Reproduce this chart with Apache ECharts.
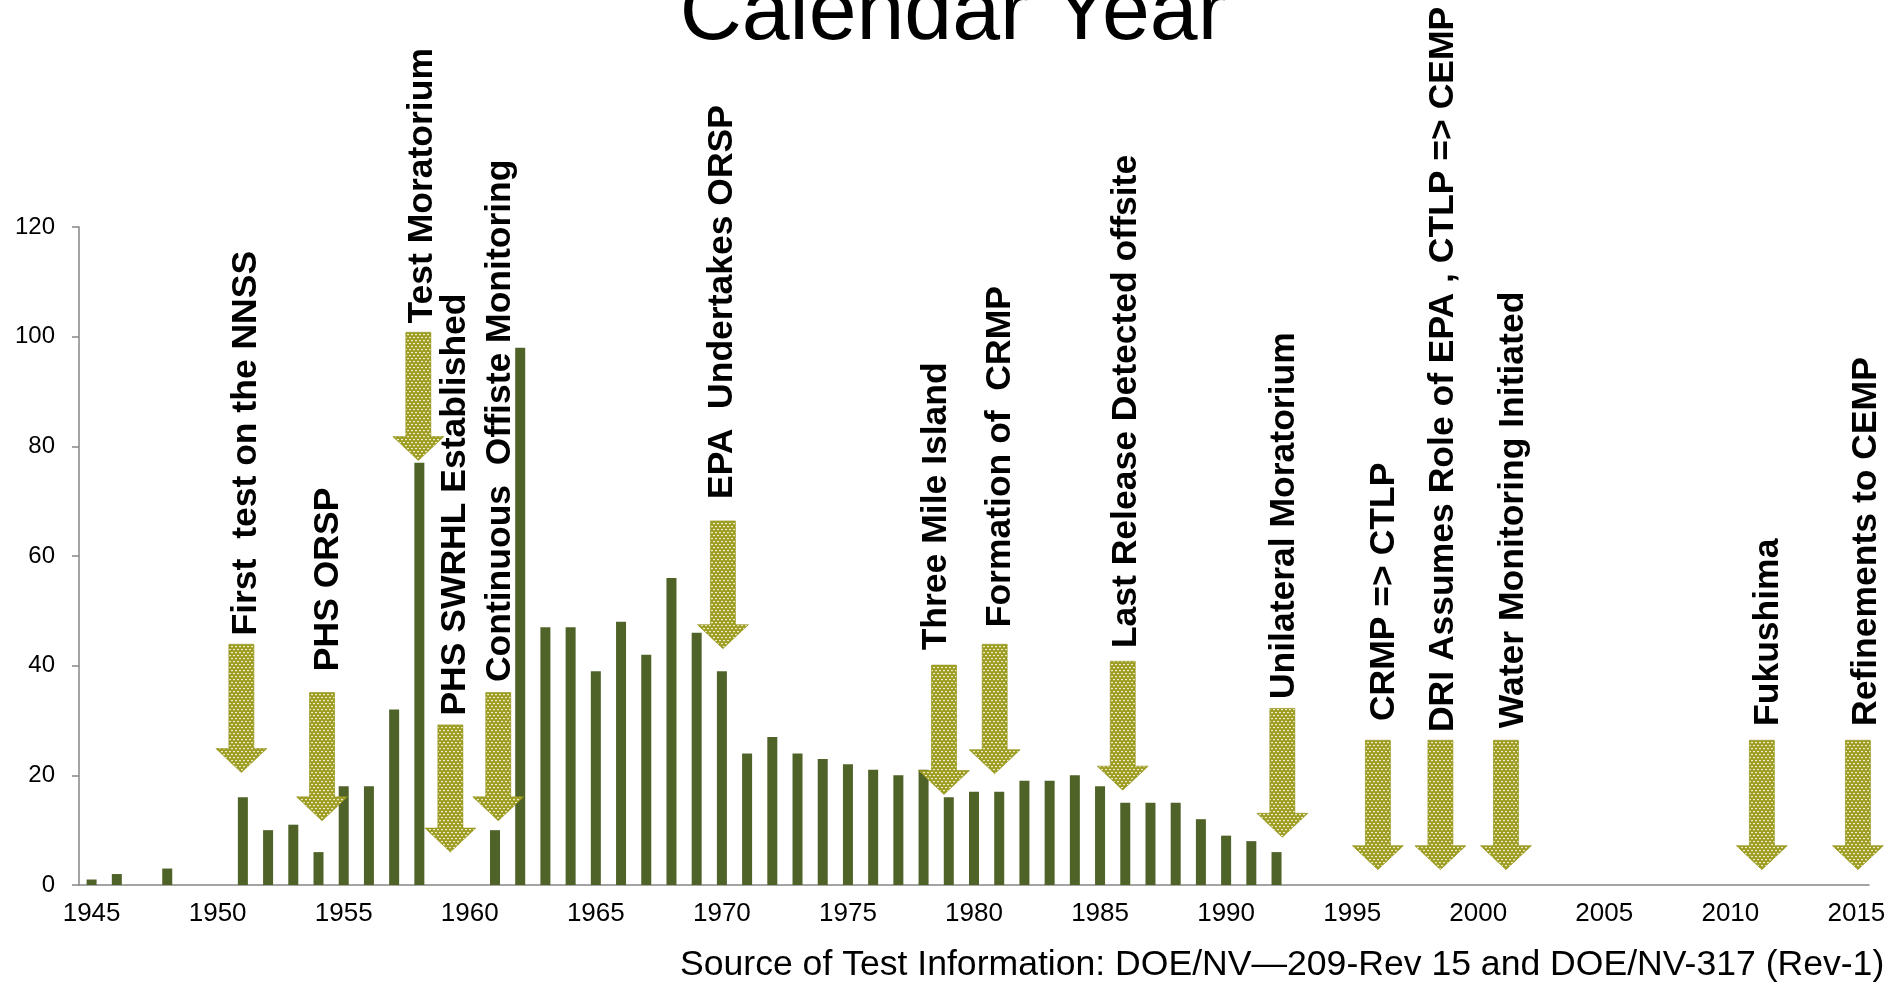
<!DOCTYPE html>
<html>
<head>
<meta charset="utf-8">
<title>Nuclear tests by calendar year</title>
<script src="https://cdn.jsdelivr.net/npm/echarts@6/dist/echarts.min.js"></script>
<style>
  html, body { margin: 0; padding: 0; background: #fff; }
  #chart { width: 1898px; height: 982px; }
</style>
</head>
<body>
<div id="chart"></div>
<script>
const years = [
  '1945', '1946', '1947', '1948', '1949', '1950', '1951', '1952', '1953', '1954',
  '1955', '1956', '1957', '1958', '1959', '1960', '1961', '1962', '1963', '1964',
  '1965', '1966', '1967', '1968', '1969', '1970', '1971', '1972', '1973', '1974',
  '1975', '1976', '1977', '1978', '1979', '1980', '1981', '1982', '1983', '1984',
  '1985', '1986', '1987', '1988', '1989', '1990', '1991', '1992', '1993', '1994',
  '1995', '1996', '1997', '1998', '1999', '2000', '2001', '2002', '2003', '2004',
  '2005', '2006', '2007', '2008', '2009', '2010', '2011', '2012', '2013', '2014',
  '2015'
]
const testCounts = [
  1, 2, 0, 3, 0, 0, 16, 10, 11, 6,
  18, 18, 32, 77, 0, 0, 10, 98, 47, 47,
  39, 48, 42, 56, 46, 39, 24, 27, 24, 23,
  22, 21, 20, 21, 16, 17, 17, 19, 19, 20,
  18, 15, 15, 15, 12, 9, 8, 6, 0, 0,
  0, 0, 0, 0, 0, 0, 0, 0, 0, 0,
  0, 0, 0, 0, 0, 0, 0, 0, 0, 0,
  0
]
const yTicks = { min: 0, max: 120, step: 20 }

// event arrows: year position, top of shaft, arrow tip (in test counts)
const arrowYears = [1950.94, 1954.14, 1957.96, 1959.23, 1961.13, 1970.04, 1978.81, 1980.82, 1985.9, 1992.23, 1996.02, 1998.5, 2001.1, 2011.25, 2015.06]
const arrowTops = [43.9, 35.1, 100.8, 29.2, 35.1, 66.4, 40.1, 43.9, 40.8, 32.2, 26.4, 26.4, 26.4, 26.4, 26.4]
const arrowTips = [20.5, 11.7, 77.4, 6.0, 11.7, 43.1, 16.5, 20.3, 17.3, 8.7, 2.8, 2.8, 2.8, 2.8, 2.8]

const eventLabels = [
  'First  test on the NNSS',
  'PHS ORSP',
  'Test Moratorium',
  'PHS SWRHL Established',
  'Continuous  Offiste Monitoring',
  'EPA  Undertakes ORSP',
  'Three Mile Island',
  'Formation of  CRMP',
  'Last Release Detected offsite',
  'Unilateral Moratorium',
  'CRMP => CTLP',
  'DRI Assumes Role of EPA , CTLP => CEMP',
  'Water Monitoring Initiated',
  'Fukushima',
  'Refinements to CEMP'
]
const labelYears = [1951.12, 1954.39, 1958.12, 1959.44, 1961.21, 1970.01, 1978.5, 1981.03, 1986.03, 1992.3, 1996.26, 1998.6, 2001.38, 2011.49, 2015.37]
const labelBases = [45.5, 39.0, 102.4, 30.9, 37.0, 70.4, 42.8, 47.0, 43.2, 33.9, 29.9, 27.9, 28.6, 29.0, 29.0]

const titleText = 'Calendar Year'
const sourceText = 'Source of Test Information: DOE/NV\u2014209-Rev 15 and DOE/NV-317 (Rev-1)'

const font = '"Liberation Sans", Arial, sans-serif'
const axisGrey = '#868686'

// dotted fill like the office pattern on the arrows
const makeDots = () => {
  const c = document.createElement('canvas')
  c.width = 4
  c.height = 6
  const ctx = c.getContext('2d')
  ctx.fillStyle = '#9a9a1c'
  ctx.fillRect(0, 0, 4, 6)
  ctx.fillStyle = '#eeeccb'
  ;[[2, 1.5], [0, 4.5], [4, 4.5]].forEach(([x, y]) => {
    ctx.beginPath()
    ctx.ellipse(x, y, 1.2, 0.85, 0, 0, Math.PI * 2)
    ctx.fill()
  })
  return c
}
const dots = makeDots()

const chart = echarts.init(document.getElementById('chart'))

const option = {
  animation: false,
  backgroundColor: '#fff',
  graphic: [{
    // title sits partly above the top edge, as in the slide
    type: 'text',
    x: 953,
    y: -28,
    style: { text: titleText, fontSize: 86, fill: '#000', fontFamily: font, align: 'center', verticalAlign: 'top' }
  }, {
    type: 'text',
    left: 680,
    top: 947,
    style: { text: sourceText, fontSize: 35.6, fill: '#000', fontFamily: font }
  }],
  grid: { left: 79, right: 29, top: 227, bottom: 97 },
  xAxis: [{
    type: 'category',
    data: years,
    axisLine: { lineStyle: { color: axisGrey, width: 1.5 } },
    axisTick: { interval: 0, length: 8, lineStyle: { color: axisGrey, width: 1.5 } },
    axisLabel: { interval: 4, color: '#000', fontSize: 26, margin: 16, fontFamily: font }
  }, {
    type: 'value',
    min: 1944.5,
    max: 2015.5,
    show: false
  }],
  yAxis: {
    type: 'value',
    min: yTicks.min,
    max: yTicks.max,
    interval: yTicks.step,
    splitLine: { show: false },
    axisLine: { show: true, lineStyle: { color: axisGrey, width: 1.5 } },
    axisTick: { show: true, length: 7, lineStyle: { color: axisGrey, width: 1.5 } },
    axisLabel: { color: '#000', fontSize: 24, margin: 24, fontFamily: font }
  },
  series: [{
    type: 'bar',
    data: testCounts,
    barWidth: 10,
    itemStyle: { color: '#4f6228' },
    z: 2
  }, {
    type: 'custom',
    xAxisIndex: 1,
    z: 3,
    silent: true,
    clip: false,
    data: arrowYears.map((x, i) => [x, arrowTops[i], arrowTips[i]]),
    renderItem: (params, api) => {
      const top = api.coord([api.value(0), api.value(1)])
      const tip = api.coord([api.value(0), api.value(2)])
      const cx = top[0]
      const sw = 12.5 // half shaft
      const hw = 25.5 // half head
      const neck = tip[1] - 24
      return {
        type: 'polygon',
        shape: {
          points: [
            [cx - sw, top[1]], [cx + sw, top[1]], [cx + sw, neck], [cx + hw, neck],
            [cx, tip[1]], [cx - hw, neck], [cx - sw, neck]
          ]
        },
        style: { fill: { image: dots, repeat: 'repeat' }, stroke: '#8e8e12', lineWidth: 0.6 }
      }
    }
  }, {
    type: 'custom',
    xAxisIndex: 1,
    z: 4,
    silent: true,
    clip: false,
    data: labelYears.map((x, i) => [x, labelBases[i]]),
    renderItem: (params, api) => {
      const p = api.coord([api.value(0), api.value(1)])
      return {
        type: 'text',
        x: p[0],
        y: p[1],
        rotation: Math.PI / 2,
        style: {
          text: eventLabels[params.dataIndex],
          fontSize: 35.5,
          fontWeight: 'bold',
          fontFamily: font,
          fill: '#000',
          align: 'left',
          verticalAlign: 'middle'
        }
      }
    }
  }]
}

chart.setOption(option)
</script>
</body>
</html>
